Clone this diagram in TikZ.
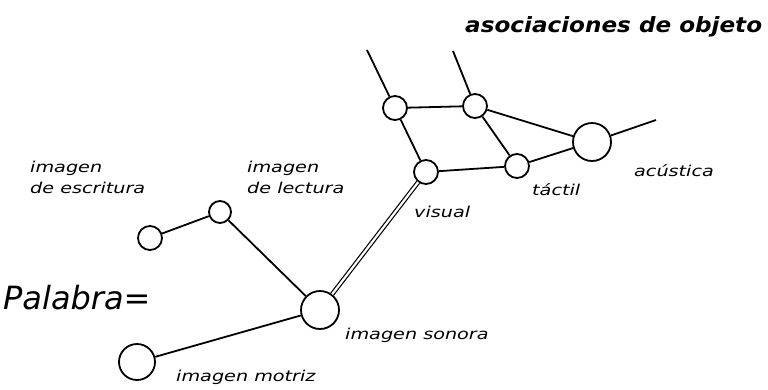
\documentclass[tikz,border=0pt]{standalone}
\usepackage{fontspec}
\usepackage{graphicx}
\setmainfont{DejaVu Sans}
\newcommand{\wlbl}[1]{\scalebox{1.28}[1]{\begin{tabular}{@{}l@{}}#1\end{tabular}}}
\begin{document}
\begin{tikzpicture}[x=1pt,y=-1pt,
  nd/.style={circle,draw,line width=1.8pt,fill=white,inner sep=0pt,minimum size=#1},
  nd/.default=24pt,
  ln/.style={line width=1.8pt},
  lbl/.style={font=\itshape\fontsize{15}{21}\selectfont,inner sep=0pt,anchor=west},
]
\useasboundingbox (0,0) rectangle (768,389);
% nodes
\node[nd] (esc) at (150,238) {};
\node[nd=22pt] (lec) at (220,212) {};
\node[nd=38pt] (son) at (320,310) {};
\node[nd=36pt] (mot) at (137,362) {};
\node[nd] (vis) at (426,172) {};
\node[nd] (tl) at (395,108) {};
\node[nd] (tm) at (475,106) {};
\node[nd] (tac) at (517,166) {};
\node[nd=38pt] (acu) at (592,142) {};
\coordinate (tlend) at (367,50);
\coordinate (tmend) at (453,51);
\coordinate (acuend) at (656,120);
% connectors
\draw[ln] (esc) -- (lec);
\draw[ln] (lec) -- (son);
\draw[ln] (mot) -- (son);
\draw[line width=1.2pt,double,double distance=2.2pt] (son) -- (vis);
\draw[ln] (tl) -- (tlend);
\draw[ln] (tm) -- (tmend);
\draw[ln] (acu) -- (acuend);
\draw[ln] (tl) -- (tm);
\draw[ln] (tl) -- (vis);
\draw[ln] (tm) -- (tac);
\draw[ln] (tm) -- (acu);
\draw[ln] (vis) -- (tac);
\draw[ln] (tac) -- (acu);
% labels
\node[font=\itshape\bfseries\fontsize{21}{24}\selectfont,anchor=west,inner sep=0pt] (t1) at (465,27) {\scalebox{1.1}[1]{asociaciones de objeto}};
\node[font=\itshape\fontsize{32}{34}\selectfont,anchor=west,inner sep=0pt] (t2) at (3,298) {Palabra=};
\node[lbl] (t3) at (30,179) {\wlbl{imagen\\de escritura}};
\node[lbl] (t4) at (247,179) {\wlbl{imagen\\de lectura}};
\node[lbl] (t5) at (414,213) {\wlbl{visual}};
\node[lbl] (t6) at (532,191) {\wlbl{táctil}};
\node[lbl] (t7) at (634,172) {\wlbl{acústica}};
\node[lbl] (t8) at (345,335) {\wlbl{imagen sonora}};
\node[lbl] (t9) at (176,377) {\wlbl{imagen motriz}};
\end{tikzpicture}
\end{document}
